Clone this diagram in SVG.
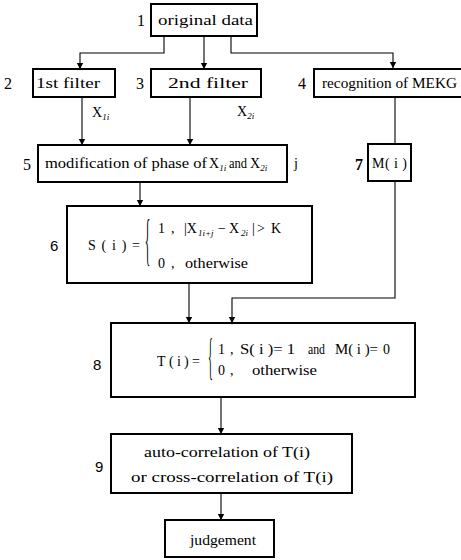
<svg xmlns="http://www.w3.org/2000/svg" width="461" height="560" viewBox="0 0 461 560" font-family="'Liberation Serif', 'Times New Roman', Times, serif">
<style>
.box{fill:#fff;stroke:#000;stroke-width:2}
.t{font-family:'Liberation Serif','Times New Roman',Times,serif;font-size:14px;fill:#000;font-weight:normal}
.lab{font-family:'Liberation Serif','Times New Roman',Times,serif;font-size:16px;fill:#000}
.labs{font-family:'Liberation Sans',Arial,sans-serif;font-size:15px;fill:#000}
.sub{font-size:9px;font-style:italic}
.con{fill:none;stroke:#000;stroke-width:1.1}
.br{font-family:'Liberation Serif','Times New Roman',Times,serif;fill:#000;font-weight:normal}
</style>
<defs>
<marker id="ah" viewBox="0 0 6 8" refX="6" refY="4" markerWidth="6" markerHeight="8" markerUnits="userSpaceOnUse" orient="auto">
<path d="M0,0.8 L6,4 L0,7.2 z" fill="#000"/>
</marker>
</defs>
<rect width="461" height="560" fill="#fff"/>
<g id="connectors">
<path class="con" d="M164,36 V53 H80 V69" marker-end="url(#ah)"/>
<path class="con" d="M204,36 V69" marker-end="url(#ah)"/>
<path class="con" d="M231,36 V53 H393 V68" marker-end="url(#ah)"/>
<path class="con" d="M82,97 V145" marker-end="url(#ah)"/>
<path class="con" d="M190,97 V145" marker-end="url(#ah)"/>
<path class="con" d="M395,97 V144"/>
<path class="con" d="M140,182 V206" marker-end="url(#ah)"/>
<path class="con" d="M189,283 V323" marker-end="url(#ah)"/>
<path class="con" d="M395,181 V298 H232 V323" marker-end="url(#ah)"/>
<path class="con" d="M221,397 V434" marker-end="url(#ah)"/>
<path class="con" d="M221,493 V520" marker-end="url(#ah)"/>
<text class="t" x="92" y="117" font-size="15">X<tspan class="sub" dy="3">1i</tspan></text>
<text class="t" x="237" y="116" font-size="15">X<tspan class="sub" dy="3">2i</tspan></text>
<text class="t" x="294" y="168" font-size="15">j</text>
</g>
<g id="n1">
<rect class="box" x="151" y="4" width="106" height="32"/>
<text class="t" x="158" y="25" font-size="16" textLength="95" lengthAdjust="spacingAndGlyphs">original data</text>
<text class="lab" x="137" y="26">1</text>
</g>
<g id="n2">
<rect class="box" x="33" y="69" width="82" height="28"/>
<text class="t" x="36" y="88" font-size="16" textLength="64" lengthAdjust="spacingAndGlyphs">1st filter</text>
<text class="lab" x="4" y="89">2</text>
</g>
<g id="n3">
<rect class="box" x="151" y="69" width="110" height="28"/>
<text class="t" x="168" y="88" font-size="16" textLength="80" lengthAdjust="spacingAndGlyphs">2nd filter</text>
<text class="lab" x="136" y="89">3</text>
</g>
<g id="n4">
<rect class="box" x="314" y="69" width="152" height="28"/>
<text class="t" x="322" y="88" font-size="15" textLength="135" lengthAdjust="spacingAndGlyphs">recognition of MEKG</text>
<text class="lab" x="298" y="89">4</text>
</g>
<g id="n5">
<rect class="box" x="38" y="145" width="249" height="37"/>
<text class="t" x="45" y="168" font-size="15" textLength="162" lengthAdjust="spacingAndGlyphs">modification of phase of</text>
<text class="t" x="209" y="168" font-size="15">X<tspan class="sub" dy="3">1i</tspan></text>
<text class="t" x="229" y="168" font-size="13" textLength="18" lengthAdjust="spacingAndGlyphs">and</text>
<text class="t" x="250" y="168" font-size="15">X<tspan class="sub" dy="3">2i</tspan></text>
<text class="lab" x="23" y="170">5</text>
</g>
<g id="n7">
<rect class="box" x="368" y="144" width="43" height="37"/>
<text class="t" x="372" y="168" font-size="15" textLength="35" lengthAdjust="spacing">M( i )</text>
<text class="lab" x="355" y="170" font-weight="bold">7</text>
</g>
<g id="n6">
<rect class="box" x="67" y="206" width="245" height="77"/>
<text class="t" x="88" y="250" font-size="16" textLength="52" lengthAdjust="spacing">S ( i ) =</text>
<text class="br" font-size="58" text-anchor="middle" transform="translate(147.5,259) scale(0.2,1)">{</text>
<text class="t" y="233" font-size="16"><tspan x="158">1</tspan><tspan x="171">,</tspan><tspan x="184">|X</tspan><tspan class="sub" x="198" dy="3">1i+j</tspan><tspan x="218" dy="-3">−</tspan><tspan x="229">X</tspan><tspan class="sub" x="241" dy="3">2i</tspan><tspan x="252" dy="-3">|</tspan><tspan x="257">&gt;</tspan><tspan x="271">K</tspan></text>
<text class="t" x="158" y="268" font-size="16">0<tspan x="171">,</tspan></text>
<text class="t" x="185" y="268" font-size="16" textLength="63" lengthAdjust="spacingAndGlyphs">otherwise</text>
<text class="labs" x="50" y="251">6</text>
</g>
<g id="n8">
<rect class="box" x="111" y="323" width="304" height="74"/>
<text class="t" x="157" y="366" font-size="16" textLength="43" lengthAdjust="spacing">T(i)=</text>
<text class="br" font-size="50" text-anchor="middle" transform="translate(210.5,373) scale(0.2,1)">{</text>
<text class="t" x="218" y="354" font-size="16">1<tspan x="230">,</tspan></text>
<text class="t" x="240" y="354" font-size="16" textLength="55" lengthAdjust="spacingAndGlyphs">S( i )= 1</text>
<text class="t" x="308" y="354" font-size="14" textLength="17" lengthAdjust="spacingAndGlyphs">and</text>
<text class="t" x="335" y="354" font-size="16" textLength="43" lengthAdjust="spacingAndGlyphs">M( i )=</text>
<text class="t" x="383" y="354" font-size="16">0</text>
<text class="t" x="218" y="375" font-size="16">0<tspan x="230">,</tspan></text>
<text class="t" x="252" y="375" font-size="16" textLength="65" lengthAdjust="spacingAndGlyphs">otherwise</text>
<text class="labs" x="93" y="370">8</text>
</g>
<g id="n9">
<rect class="box" x="111" y="434" width="241" height="59"/>
<text class="t" x="144" y="457" font-size="16" textLength="166" lengthAdjust="spacingAndGlyphs">auto-correlation of T(i)</text>
<text class="t" x="131" y="482" font-size="16" textLength="202" lengthAdjust="spacingAndGlyphs">or cross-correlation of T(i)</text>
<text class="labs" x="95" y="472">9</text>
</g>
<g id="n10">
<rect class="box" x="165" y="520" width="109" height="37"/>
<text class="t" x="190" y="545" font-size="16" textLength="66" lengthAdjust="spacingAndGlyphs">judgement</text>
</g>
</svg>
